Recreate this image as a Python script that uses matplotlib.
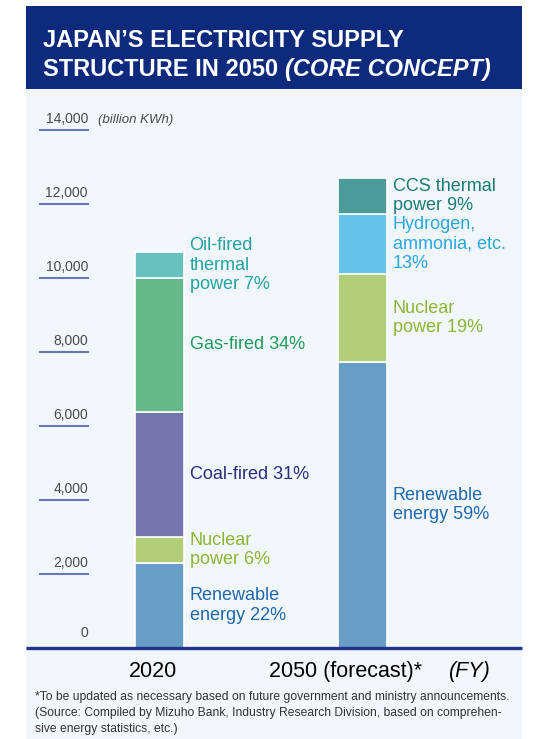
import matplotlib.pyplot as plt
from matplotlib.patches import Rectangle
from matplotlib.transforms import blended_transform_factory

# data (billion kWh)
years = ['2020', '2050 (forecast)*']
renewable = [2300, 7730]
nuclear = [690, 2380]
coal_2020 = 3390
gas_2020 = 3620
oil_2020 = 700
hydrogen_2050 = 1620
ccs_2050 = 970

labels_2020 = ['Renewable\nenergy 22%', 'Nuclear\npower 6%', 'Coal-fired 31%',
               'Gas-fired 34%', 'Oil-fired\nthermal\npower 7%']
labels_2050 = ['Renewable\nenergy 59%', 'Nuclear\npower 19%',
               'Hydrogen,\nammonia, etc.\n13%', 'CCS thermal\npower 9%']
yticks = [0, 2000, 4000, 6000, 8000, 10000, 12000, 14000]

c_renew, c_nuc, c_coal, c_gas = '#689dc6', '#b3cd78', '#7574ad', '#67b88b'
c_oil, c_h2, c_ccs = '#68c1be', '#66c4ea', '#4c9b98'
t_renew, t_nuc, t_coal, t_gas = '#2068ad', '#8cb636', '#2c2c7c', '#1f9a5c'
t_oil, t_h2, t_ccs = '#22a3a0', '#2aa7de', '#1b7b78'

W, H = 546, 739
fig = plt.figure(figsize=(W / 100, H / 100), dpi=100)
fig.patch.set_facecolor('white')

def fx(px):
    return px / W

def fy(py):
    return 1 - py / H

# light panel + title bar
fig.patches.append(Rectangle((fx(26), 0), fx(496), fy(89), transform=fig.transFigure,
                             facecolor='#f2f7fc', edgecolor='none', zorder=-2))
fig.patches.append(Rectangle((fx(26), fy(89)), fx(496), fy(6) - fy(89), transform=fig.transFigure,
                             facecolor='#0e2a7c', edgecolor='none', zorder=-2))

title_font = dict(family=['Liberation Sans', 'DejaVu Sans'], fontsize=17, fontweight='bold', color='white')
fig.text(fx(43), fy(47), 'JAPAN\u2019S ELECTRICITY SUPPLY', va='baseline', **title_font)
t2 = fig.text(fx(43), fy(76), 'STRUCTURE IN 2050 ', va='baseline', **title_font)
r = fig.canvas.get_renderer()
bb = t2.get_window_extent(renderer=r)
fig.text(bb.x1 / W, fy(76), '(CORE CONCEPT)', va='baseline', style='italic', **title_font)

# chart axes: baseline at y=648 px, 37 px per 1000
ax = fig.add_axes([fx(26), fy(648), fx(496), fy(92) - fy(648)])
ax.set_facecolor('none')
ax.set_ylim(0, (648 - 92) / 37 * 1000)
ax.set_xlim(-(159.5 - 26) / 203, 1 + (522 - 362.5) / 203)
for s in ax.spines.values():
    s.set_visible(False)
ax.set_xticks([])
ax.set_yticks([])

bw = 49 / 203
kw = dict(width=bw, edgecolor='white', linewidth=1.2)

stack_2020 = [renewable[0], nuclear[0], coal_2020, gas_2020, oil_2020]
cols_2020 = [c_renew, c_nuc, c_coal, c_gas, c_oil]
tcols_2020 = [t_renew, t_nuc, t_coal, t_gas, t_oil]
stack_2050 = [renewable[1], nuclear[1], hydrogen_2050, ccs_2050]
cols_2050 = [c_renew, c_nuc, c_h2, c_ccs]
tcols_2050 = [t_renew, t_nuc, t_h2, t_ccs]

lab_font = dict(family=['Liberation Sans', 'DejaVu Sans'], fontsize=13, linespacing=1.2)
for xi, stack, cols, tcols, labs in [(0, stack_2020, cols_2020, tcols_2020, labels_2020),
                                     (1, stack_2050, cols_2050, tcols_2050, labels_2050)]:
    bottom = 0
    for v, c, tc, lab in zip(stack, cols, tcols, labs):
        ax.bar(xi, v, bottom=bottom, color=c, **kw)
        ax.text(xi + 0.148, bottom + v / 2, lab, color=tc, ha='left', va='center', **lab_font)
        bottom += v

# baseline
ax.axhline(0, color='#22358a', linewidth=2.4, zorder=5, clip_on=False, solid_capstyle='butt')

# y tick labels with underlines
tr = blended_transform_factory(ax.transAxes, ax.transData)
x0, x1 = (40 - 26) / 496, (88 - 26) / 496
for v in yticks:
    if v > 0:
        ax.plot([x0, x1], [v, v], transform=tr, color='#6678b4', linewidth=1.5, clip_on=False)
    ax.annotate(f'{v:,}', xy=(x1, v), xycoords=tr, xytext=(0, 5 if v else 8), textcoords='offset points',
                ha='right', va='baseline', fontsize=10, color='#4a4a4a', family=['Liberation Sans', 'DejaVu Sans'])
ax.annotate('(billion KWh)', xy=(x1, yticks[-1]), xycoords=tr, xytext=(7, 5), textcoords='offset points',
            ha='left', va='baseline', fontsize=9.5, style='italic', color='#4a4a4a',
            family=['Liberation Sans', 'DejaVu Sans'])

# category labels
cat_font = dict(family=['Liberation Sans', 'DejaVu Sans'], fontsize=15.5, color='black', va='baseline')
fig.text(fx(153.5), fy(677), years[0], ha='center', **cat_font)
fig.text(fx(345.5), fy(677), years[1], ha='center', **cat_font)
fig.text(fx(491), fy(677), '(FY)', ha='right', style='italic', **cat_font)

# footnote, shrunk to fit the reference width
note = ('*To be updated as necessary based on future government and ministry announcements.\n'
        '(Source: Compiled by Mizuho Bank, Industry Research Division, based on comprehen-\n'
        'sive energy statistics, etc.)')
fn = fig.text(fx(35), fy(691), note, ha='left', va='top', fontsize=10, color='#333333', linespacing=1.45,
              family=['Liberation Sans', 'DejaVu Sans'])
w = fn.get_window_extent(renderer=r).width
fn.set_fontsize(10 * 477 / w)

fig.savefig('out.png', dpi=100, facecolor='white')
